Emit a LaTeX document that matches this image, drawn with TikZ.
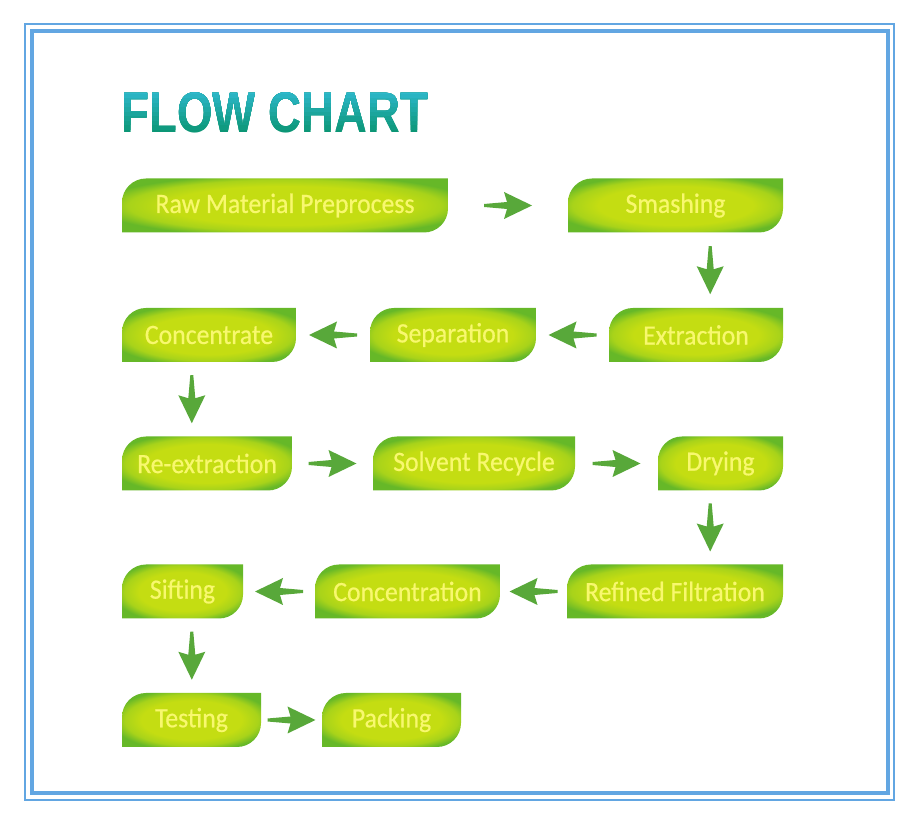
\documentclass[tikz,border=0pt]{standalone}
\usepackage{fontspec}
\setmainfont{Carlito}[FakeStretch=0.92, FakeBold=0.6]
\newfontfamily\titlefont{Liberation Sans}
\usepackage{graphicx}
\usetikzlibrary{calc}

\definecolor{framecol}{HTML}{62A6E2}
\definecolor{leafin}{HTML}{C4DD12}
\definecolor{leafmid}{HTML}{A8D31A}
\definecolor{leafout}{HTML}{66B828}
\definecolor{arrowcol}{HTML}{58A83A}
\definecolor{leaftext}{HTML}{F8F86E}
\definecolor{titletop}{HTML}{2EB8CC}
\definecolor{titlebot}{HTML}{0C9676}

\pgfdeclareradialshading{leafshade}{\pgfpoint{0bp}{0bp}}{color(0bp)=(leafin); color(18bp)=(leafin); color(24bp)=(leafmid); color(29bp)=(leafout); color(50bp)=(leafout)}

\tikzset{
  heading/.style={font=\titlefont\bfseries\fontsize{57}{60}\selectfont},
  leaf/.style={minimum height=54pt, inner sep=0pt, text=leaftext,
    font=\fontsize{28}{32}\selectfont,
    path picture={\shade[shading=leafshade]
      (path picture bounding box.south west)
      -- ([yshift=-24pt]path picture bounding box.north west)
      arc[start angle=180, end angle=90, radius=24pt]
      -- (path picture bounding box.north east)
      -- ([yshift=24pt]path picture bounding box.south east)
      arc[start angle=0, end angle=-90, radius=24pt]
      -- cycle;}},
  flow/.style={fill=arrowcol, draw=none,
    to path={let \p1=(\tikztostart), \p2=(\tikztotarget),
      \p3=($(\p1)!0.5!(\p2)$), \n1={atan2(\y2-\y1,\x2-\x1)} in
      [shift={(\p3)}, rotate=\n1]
      (-24pt,-1.5pt) -- (-1pt,-3.5pt) -- (-4pt,-13.5pt) -- (24pt,0pt)
      -- (-4pt,13.5pt) -- (-1pt,3.5pt) -- (-24pt,1.5pt) -- cycle}}
}

\begin{document}
\begin{tikzpicture}[x=1pt, y=1pt]

\fill[white] (0,0) rectangle (920,826);
\useasboundingbox (0,0) rectangle (920,826);

\draw[framecol, line width=1.5pt] (25,26) rectangle (894,802);
\draw[framecol, line width=4pt] (32,33) rectangle (888,795);

\node[heading, text=titlebot] (title) at (275,713) {\scalebox{0.8}[1]{FLOW CHART}};
\foreach \i in {1,...,9}{
  \pgfmathtruncatemacro\mix{\i*11}
  \begin{scope}
    \clip (100,692+4.5*\i) rectangle (450,745);
    \node[heading, text=titletop!\mix!titlebot] (title\i) at (275,713) {\scalebox{0.8}[1]{FLOW CHART}};
  \end{scope}
}

\node[leaf, minimum width=326pt] (raw) at (285,620.5) {Raw Material Preprocess};
\node[leaf, minimum width=215pt] (smash) at (675.5,620.5) {Smashing};

\node[leaf, minimum width=174pt] (extr) at (696,491) {Extraction};
\node[leaf, minimum width=166pt] (sep) at (453,491) {Separation};
\node[leaf, minimum width=174pt] (conc) at (209,491) {Concentrate};

\node[leaf, minimum width=170pt] (reex) at (207,362.5) {Re-extraction};
\node[leaf, minimum width=202pt] (solv) at (474,362.5) {Solvent Recycle};
\node[leaf, minimum width=125pt] (dry) at (720.5,362.5) {Drying};

\node[leaf, minimum width=216pt] (refi) at (675,234.5) {Refined Filtration};
\node[leaf, minimum width=185pt] (concn) at (407.5,234.5) {Concentration};
\node[leaf, minimum width=121pt] (sift) at (182.5,234.5) {Sifting};

\node[leaf, minimum width=139pt] (test) at (191.5,106) {Testing};
\node[leaf, minimum width=139pt] (pack) at (391.5,106) {Packing};

\coordinate (smashdown) at ([xshift=-73pt]smash.south east);
\coordinate (extrup) at ([xshift=-73pt]extr.north east);
\coordinate (concdown) at ([xshift=70pt]conc.south west);
\coordinate (reexup) at ([xshift=70pt]reex.north west);
\coordinate (drydown) at ([xshift=-73pt]dry.south east);
\coordinate (refiup) at ([xshift=-73pt]refi.north east);
\coordinate (siftdown) at ([xshift=70pt]sift.south west);
\coordinate (testup) at ([xshift=70pt]test.north west);

\fill[flow] (raw.east) to (smash.west);
\fill[flow] (smashdown) to (extrup);
\fill[flow] (extr.west) to (sep.east);
\fill[flow] (sep.west) to (conc.east);
\fill[flow] (concdown) to (reexup);
\fill[flow] (reex.east) to (solv.west);
\fill[flow] (solv.east) to (dry.west);
\fill[flow] (drydown) to (refiup);
\fill[flow] (refi.west) to (concn.east);
\fill[flow] (concn.west) to (sift.east);
\fill[flow] (siftdown) to (testup);
\fill[flow] (test.east) to (pack.west);

\end{tikzpicture}
\end{document}
